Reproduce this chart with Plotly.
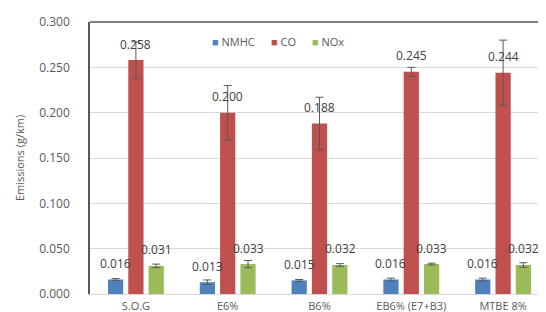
import plotly.graph_objects as go

categories = ["S.O.G", "E6%", "B6%", "EB6% (E7+B3)", "MTBE 8%"]
nmhc = [0.016, 0.013, 0.015, 0.016, 0.016]
co = [0.258, 0.200, 0.188, 0.245, 0.244]
nox = [0.031, 0.033, 0.032, 0.033, 0.032]
nmhc_err = [0.001, 0.0025, 0.001, 0.0015, 0.0015]
co_err = [0.020, 0.030, 0.029, 0.005, 0.036]
nox_err = [0.002, 0.004, 0.0015, 0.001, 0.0025]

series = [
    ("NMHC", nmhc, nmhc_err, "#4F81BD"),
    ("CO", co, co_err, "#C0504D"),
    ("NOx", nox, nox_err, "#9BBB59"),
]

fig = go.Figure()
for name, vals, errs, color in series:
    fig.add_trace(go.Bar(
        name=name, x=categories, y=vals, marker_color=color,
        marker_line_width=0, showlegend=False,
        error_y=dict(type="data", array=errs, visible=True,
                     color="#595959", thickness=1, width=4),
    ))

shifts = [-20.5, 0, 20.5]
for (name, vals, errs, color), xs in zip(series, shifts):
    for c, v in zip(categories, vals):
        fig.add_annotation(x=c, y=v, text=f"{v:.3f}", showarrow=False,
                           xshift=xs, yshift=16, yanchor="middle",
                           font=dict(family="Open Sans", size=12, color="#404040"))

# legend drawn as text items
legend_x = [0.262, 0.391, 0.480]
for (name, vals, errs, color), lx in zip(series, legend_x):
    fig.add_annotation(xref="paper", yref="paper", x=lx, y=0.93,
                       xanchor="left", yanchor="middle", showarrow=False,
                       text=f'<span style="color:{color}">■</span> {name}',
                       font=dict(family="Open Sans", size=11, color="#595959"))

fig.add_shape(type="line", xref="paper", yref="paper", x0=0, x1=1, y0=1, y1=1,
              line=dict(color="#595959", width=1.5))

fig.update_layout(
    width=546, height=312,
    margin=dict(l=82, r=3, t=14, b=26),
    paper_bgcolor="white", plot_bgcolor="white",
    barmode="group", bargap=0.336, bargroupgap=0.25,
    font=dict(family="Open Sans", size=11, color="#595959"),
    xaxis=dict(showline=True, linecolor="#d9d9d9", linewidth=1, mirror=False,
               tickfont=dict(size=11, color="#595959"), ticks="",
               ticklabelstandoff=2),
    yaxis=dict(range=[0, 0.3], dtick=0.05, tickformat=".3f",
               showgrid=True, gridcolor="#d9d9d9", gridwidth=1,
               showline=True, linecolor="#595959", linewidth=1.5, mirror=True,
               zeroline=False, ticks="", ticklabelstandoff=16,
               tickfont=dict(size=12, color="#595959"),
               title=dict(text="Emissions (g/km)", standoff=12,
                          font=dict(size=11, color="#595959"))),
)

fig.write_html("out.html")
